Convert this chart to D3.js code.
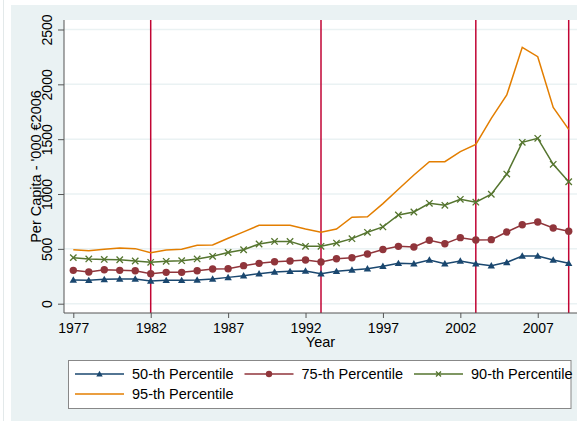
<!DOCTYPE html>
<html>
<head>
<meta charset="utf-8">
<script src="https://cdn.jsdelivr.net/npm/d3@7"></script>
<style>
  body { margin: 0; background: #fff; }
  text { font-family: "Liberation Sans", Arial, sans-serif; fill: #000; }
</style>
</head>
<body>
<script>
// Data
const years = d3.range(1977, 2010);
const p50 = [216, 213, 222, 225, 225, 207, 213, 213, 216, 225,
    240, 255, 274, 289, 295, 298, 274, 295, 307, 319,
    342, 368, 365, 398, 365, 389, 365, 347, 377, 435, 435, 398, 368];
const p75 = [304, 289, 310, 304, 300, 274, 286, 286, 300, 316,
    318, 347, 368, 383, 389, 398, 380, 410, 419, 453,
    494, 523, 517, 578, 547, 602, 581, 584, 654, 720, 745, 690, 660];
const p90 = [420, 408, 404, 401, 389, 377, 386, 392, 408, 432,
    467, 492, 544, 568, 568, 523, 523, 553, 593, 651,
    700, 809, 836, 915, 897, 952, 926, 998, 1182, 1471, 1508, 1271, 1112];
const p95 = [492, 483, 496, 508, 502, 465, 490, 496, 532, 535,
    597, 655, 715, 715, 715, 681, 651, 681, 788, 793,
    912, 1043, 1173, 1295, 1295, 1386, 1453, 1690, 1903, 2338, 2252, 1790, 1590];
const seriesNames = ['50-th Percentile', '75-th Percentile', '90-th Percentile', '95-th Percentile'];
const breakYears = [1982, 1993, 2003, 2009];
const xTicks = [1977, 1982, 1987, 1992, 1997, 2002, 2007];
const yTicks = [0, 500, 1000, 1500, 2000, 2500];

const width = 584;
const height = 421;
const plot = { left: 64, right: 577, top: 20, bottom: 313 };

const series = [
    { name: seriesNames[0], values: p50, color: '#1a476f', marker: 'triangle' },
    { name: seriesNames[1], values: p75, color: '#90353b', marker: 'circle' },
    { name: seriesNames[2], values: p90, color: '#55752f', marker: 'x' },
    { name: seriesNames[3], values: p95, color: '#e37e00', marker: 'none' }
];

const svg = d3.select('body').append('svg')
    .attr('width', width)
    .attr('height', height);

// Scales
const x = d3.scaleLinear().domain([1977, 2009]).range([73.3, 568.7]);
const y = d3.scaleLinear().domain([0, 2500]).range([303.7, 29.5]);

// Graph region background
svg.append('rect').attr('x', 11).attr('y', 5).attr('width', 566).attr('height', 416).attr('fill', '#eaf2f3');
svg.append('line').attr('x1', 3.5).attr('x2', 3.5).attr('y1', 0).attr('y2', height)
    .attr('stroke', '#e3e9ea').attr('stroke-width', 1);

// Plot region
svg.append('rect')
    .attr('x', plot.left).attr('y', plot.top)
    .attr('width', plot.right - plot.left).attr('height', plot.bottom - plot.top)
    .attr('fill', '#fff');

// Gridlines
svg.selectAll('.grid')
    .data(yTicks)
    .enter().append('line')
    .attr('x1', plot.left).attr('x2', plot.right)
    .attr('y1', d => y(d)).attr('y2', d => y(d))
    .attr('stroke', '#eaf2f3').attr('stroke-width', 1.5);

// Vertical break lines
svg.selectAll('.brk')
    .data(breakYears)
    .enter().append('line')
    .attr('x1', d => x(d)).attr('x2', d => x(d))
    .attr('y1', plot.top).attr('y2', plot.bottom)
    .attr('stroke', '#c10534').attr('stroke-width', 1.5);

// Axes
const xAxis = svg.append('g')
    .attr('transform', `translate(0,${plot.bottom})`)
    .call(d3.axisBottom(x).tickValues(xTicks).tickFormat(d3.format('d')).tickSize(5).tickSizeOuter(0));
xAxis.select('.domain').remove();
xAxis.selectAll('line').attr('stroke', '#555');
xAxis.selectAll('text')
    .attr('y', 20).attr('dy', 0)
    .style('font-size', '14px');

const yAxis = svg.append('g')
    .attr('transform', `translate(${plot.left},0)`)
    .call(d3.axisLeft(y).tickValues(yTicks).tickFormat(d3.format('d')).tickSize(6).tickSizeOuter(0));
yAxis.select('.domain').remove();
yAxis.selectAll('line').attr('stroke', '#555');
yAxis.selectAll('text')
    .attr('x', 0).attr('y', 0).attr('dy', 0)
    .attr('text-anchor', 'middle')
    .attr('transform', 'translate(-12,0) rotate(-90)')
    .style('font-size', '14px');

svg.selectAll('.tick text').attr('fill', '#000');

svg.append('line').attr('x1', plot.left).attr('x2', plot.left)
    .attr('y1', plot.top).attr('y2', plot.bottom).attr('stroke', '#555');
svg.append('line').attr('x1', plot.left).attr('x2', plot.right)
    .attr('y1', plot.bottom).attr('y2', plot.bottom).attr('stroke', '#555');

// Axis titles
svg.append('text')
    .attr('transform', `translate(41,${(plot.top + plot.bottom) / 2}) rotate(-90)`)
    .attr('text-anchor', 'middle')
    .style('font-size', '14.5px')
    .text("Per Capita - '000 €2006");

svg.append('text')
    .attr('x', (plot.left + plot.right) / 2)
    .attr('y', 347)
    .attr('text-anchor', 'middle')
    .style('font-size', '14.5px')
    .text('Year');

// Markers
function drawMarker(g, type, color, s) {
    if (type === 'triangle') {
        g.append('path').attr('d', `M0,${-s}L${s},${s * 0.75}L${-s},${s * 0.75}Z`).attr('fill', color);
    } else if (type === 'circle') {
        g.append('circle').attr('r', s).attr('fill', color);
    } else if (type === 'x') {
        g.append('path').attr('d', `M${-s},${-s}L${s},${s}M${-s},${s}L${s},${-s}`)
            .attr('stroke', color).attr('stroke-width', 1.3).attr('fill', 'none');
    }
}

// Lines
const line = d3.line()
    .x((d, i) => x(years[i]))
    .y(d => y(d));

series.slice().reverse().forEach(s => {
    svg.append('path')
        .datum(s.values)
        .attr('d', line)
        .attr('fill', 'none')
        .attr('stroke', s.color)
        .attr('stroke-width', 1.5);

    if (s.marker !== 'none') {
        svg.selectAll(null)
            .data(s.values)
            .enter().append('g')
            .attr('transform', (d, i) => `translate(${x(years[i])},${y(d)})`)
            .each(function () { drawMarker(d3.select(this), s.marker, s.color, s.marker === 'x' ? 3.2 : 3.7); });
    }
});

// Legend
const legend = svg.append('g');
legend.append('rect')
    .attr('x', 68.5).attr('y', 360.5)
    .attr('width', 502.5).attr('height', 48)
    .attr('fill', '#fff').attr('stroke', '#888');

series.forEach((s, i) => {
    const col = i % 3;
    const row = Math.floor(i / 3);
    const lx = 75 + col * 169.5;
    const ly = 374 + row * 20;
    const item = legend.append('g').attr('transform', `translate(${lx},${ly})`);
    item.append('line').attr('x1', 0).attr('x2', 49).attr('y1', 0).attr('y2', 0)
        .attr('stroke', s.color).attr('stroke-width', 1.5);
    const m = item.append('g').attr('transform', 'translate(24.5,0)');
    drawMarker(m, s.marker, s.color, s.marker === 'x' ? 2.5 : 3.2);
    item.append('text')
        .attr('x', 57).attr('y', 5)
        .style('font-size', '14.5px')
        .text(s.name);
});
</script>
</body>
</html>
